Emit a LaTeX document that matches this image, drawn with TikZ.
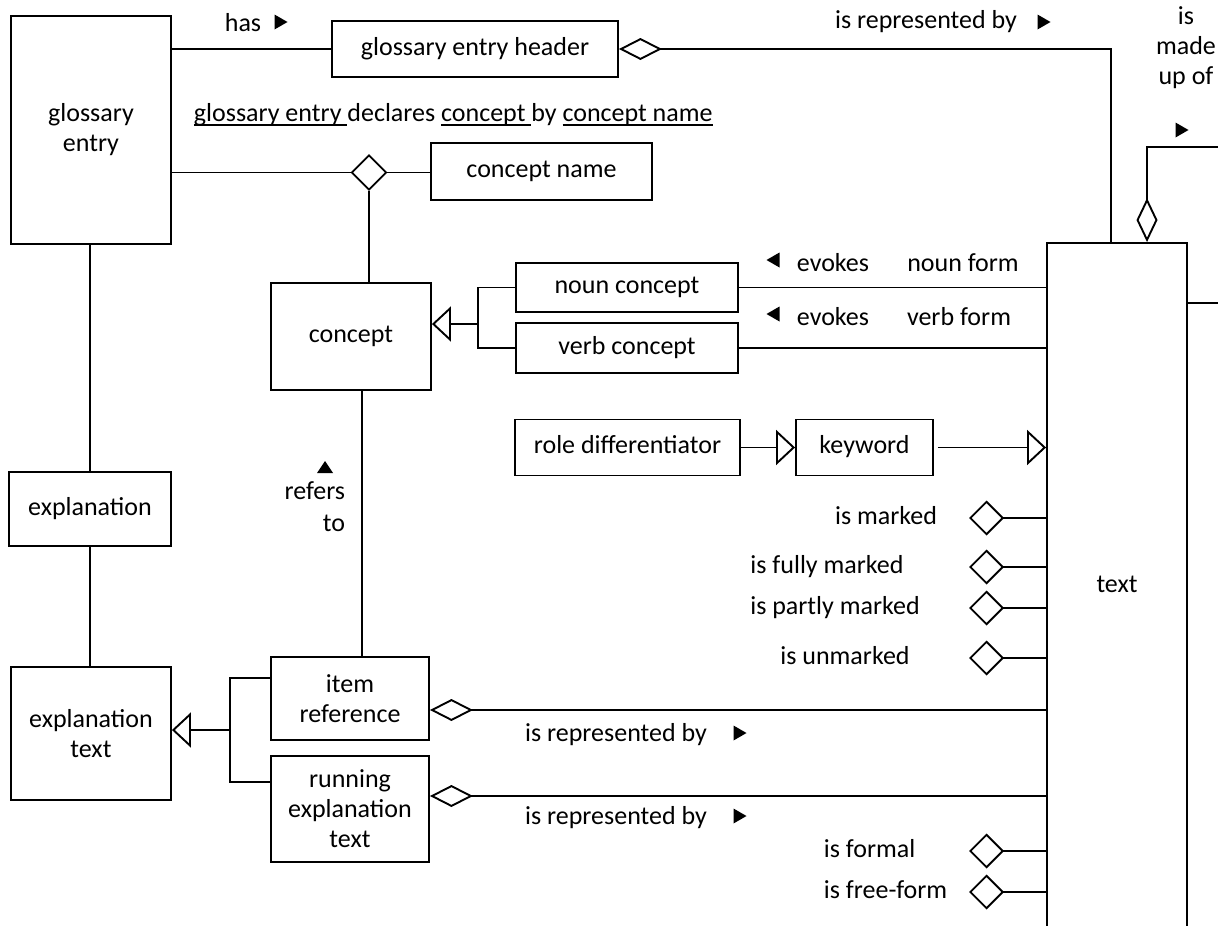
\documentclass[tikz,border=0pt]{standalone}
\usepackage{fontspec}
\setmainfont{Carlito}
\usetikzlibrary{arrows.meta,shapes.geometric}

% underline drawn at a fixed depth, crossing the descenders
\newcommand\undl[1]{\setbox0\hbox{#1}\rlap{\rule[-4.5pt]{\wd0}{1.5pt}}\box0}

\begin{document}
\begin{tikzpicture}[x=1pt,y=-1pt,line width=1.9pt,
  every node/.style={font=\fontsize{26}{30}\selectfont,inner sep=0pt},
  ent/.style 2 args={draw,rectangle,align=center,minimum width=#1,minimum height=#2},
  lbl/.style={text height=18pt,text depth=6pt},
  ent1/.style 2 args={ent={#1}{#2},lbl},
  dia/.style={draw,diamond,minimum width=35pt,minimum height=35pt},
  agg/.style={{Diamond[open,length=43pt,width=22pt]}-},
  aggv/.style={{Diamond[open,length=44pt,width=21pt]}-},
  flag/.style={{Diamond[open,length=35pt,width=35pt]}-},
  gen/.style={-{Triangle[open,length=19pt,width=35pt]}},
  rtri/.pic={\fill (-6.5,-7.5) -- (6.5,0) -- (-6.5,7.5) -- cycle;},
  ltri/.pic={\fill (6.5,-7.5) -- (-6.5,0) -- (6.5,7.5) -- cycle;},
  utri/.pic={\fill (-8,6) -- (0,-6) -- (8,6) -- cycle;}]

\useasboundingbox (0,0) rectangle (1218,926);

% entity boxes
\node[ent={160}{228}]  (ge)   at (91,130)      {glossary\\entry};
\node[ent1={286}{56}]  (geh)  at (475,49)      {glossary entry header};
\node[ent1={221}{57}]  (cn)   at (541.5,171.5) {concept name};
\node[ent1={160}{107}] (con)  at (351,336.5)   {concept};
\node[ent1={222}{49}]  (noun) at (627,287.5)   {noun concept};
\node[ent1={222}{50}]  (verb) at (627,348)     {verb concept};
\node[ent1={225}{56}]  (role) at (627.5,447.5) {role differentiator};
\node[ent1={137}{56}]  (kw)   at (864.5,447.5) {keyword};
\node[ent1={162}{74}]  (expl) at (90,509)      {explanation};
\node[ent={160}{133}]  (expt) at (91,733.5)    {explanation\\text};
\node[ent={158}{83}]   (iref) at (350,698.5)   {item\\reference};
\node[ent={158}{106}]  (run)  at (350,809)     {running\\explanation\\text};
\node[ent1={140}{686}] (txt)  at (1117,586)    {text};

% ternary association diamond
\node[dia] (dcn) at (369,172.5) {};

% glossary entry has header; header is represented by text
\draw (ge.east |- geh.west) -- (geh.west);
\coordinate (hdrDrop) at (1111,49);
\draw[agg] (geh.east) -- (hdrDrop) -- (hdrDrop |- txt.north);

% glossary entry declares concept by concept name
\draw (ge.east |- dcn.west) -- (dcn.west);
\draw (dcn.east) -- (cn.west |- dcn.east);
\draw (dcn.south) -- (dcn.south |- con.north);

% concept specialisations
\coordinate (gj) at (478,324);
\draw (noun.west) -| (gj);
\draw (verb.west) -| (gj);
\draw[gen] (gj) -- (gj -| con.east);
\draw (noun.east) -- (noun.east -| txt.west);
\draw (verb.east) -- (verb.east -| txt.west);

% role differentiator / keyword / text
\draw[gen] (role.east) -- (kw.west);
\draw[gen] ([xshift=4pt]kw.east) -- (kw.east -| txt.west);

% unary facts on text
\coordinate (fMarked)  at (969,518);
\coordinate (fFully)   at (969,567);
\coordinate (fPartly)  at (969,608);
\coordinate (fUnmark)  at (969,658);
\coordinate (fFormal)  at (969,851);
\coordinate (fFree)    at (969,892);
\foreach \f in {fMarked,fFully,fPartly,fUnmark,fFormal,fFree}
  \draw[flag] (\f) -- (\f -| txt.west);

% concept is referred to by item reference
\draw ([xshift=11pt]con.south) -- ([xshift=11pt]con.south |- iref.north);

% explanation structure
\draw (expl.north) -- (expl.north |- ge.south);
\draw (expl.south) -- (expl.south |- expt.north);
\coordinate (ej) at (230,730);
\draw (iref.west |- 0,678) -| (ej);
\draw (run.west |- 0,782) -| (ej);
\draw[gen] (ej) -- (ej -| expt.east);

% item reference / running text represented by text
\draw[agg] (iref.east |- 0,710) -- (txt.west |- 0,710);
\draw[agg] (run.east |- 0,796) -- (txt.west |- 0,796);

% text is made up of (continues to the right)
\coordinate (selfR) at (1218,303);
\draw (txt.east |- selfR) -- (selfR);
\coordinate (selfT) at (1218,147);
\draw[aggv] (txt.north -| 1147,0) -- (1147,147) -- (selfT);

% labels
\node[lbl] (lHas) at (243,25) {has};
\pic at (281,22) {rtri};
\node[lbl] (lRep0) at (926,22) {is represented by};
\pic at (1044,22) {rtri};
\node[lbl] (lMade1) at (1186,18) {is};
\node[lbl] (lMade2) at (1186,48) {made};
\node[lbl] (lMade3) at (1186,78) {up of};
\pic at (1182,130) {rtri};
\node[lbl,anchor=west] (lDecl) at (193,115)
  {\undl{glossary entry\ }declares \undl{concept\ }by \undl{concept name}};

\pic at (773,260) {ltri};
\node[lbl] (lEvN) at (833,265) {evokes};
\node[lbl] (lNF)  at (963,265) {noun form};
\pic at (773,314) {ltri};
\node[lbl] (lEvV) at (833,319) {evokes};
\node[lbl] (lVF)  at (959,319) {verb form};

\pic at (325,467) {utri};
\node[lbl,anchor=east] (lRef1) at (346,493) {refers};
\node[lbl,anchor=east] (lRef2) at (346,525) {to};

\node[lbl] (lMk) at (886,518) {is marked};
\node[lbl] (lFm) at (827,567) {is fully marked};
\node[lbl] (lPm) at (835,608) {is partly marked};
\node[lbl] (lUm) at (845,658) {is unmarked};

\node[lbl] (lRep1) at (616,735) {is represented by};
\pic at (740,733) {rtri};
\node[lbl] (lRep2) at (616,818) {is represented by};
\pic at (740,816) {rtri};

\node[lbl,anchor=west] (lFo) at (823,851) {is formal};
\node[lbl,anchor=west] (lFf) at (823,892) {is free-form};
\end{tikzpicture}
\end{document}
